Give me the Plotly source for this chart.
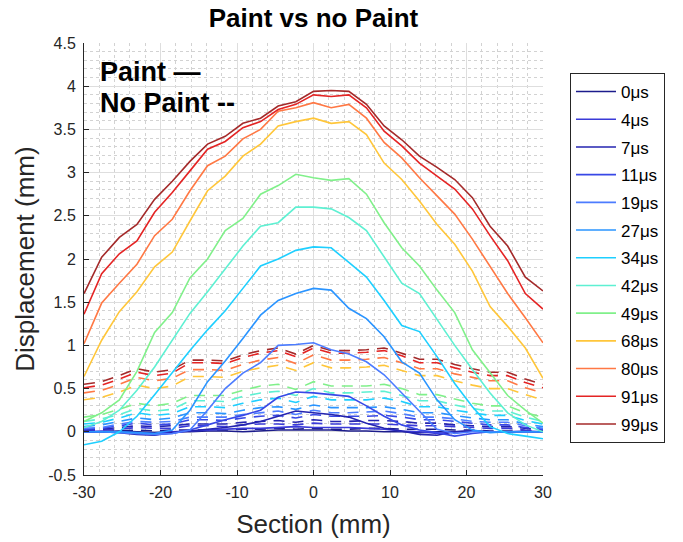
import plotly.graph_objects as go

section_mm = [-30.0, -27.69, -25.38, -23.08, -20.77, -18.46, -16.15, -13.85, -11.54, -9.23,
              -6.92, -4.62, -2.31, 0.0, 2.31, 4.62, 6.92, 9.23, 11.54, 13.85,
              16.15, 18.46, 20.77, 23.08, 25.38, 27.69, 30.0]

time_labels = ["0μs", "4μs", "7μs", "11μs", "19μs", "27μs", "34μs",
               "42μs", "49μs", "68μs", "80μs", "91μs", "99μs"]

line_colors = ["#1c1c8c", "#3a3ad8", "#2424b0", "#3848e6", "#4c7cff", "#2a94ff", "#1ecfff",
               "#5ef0d2", "#80f08a", "#ffc63a", "#ff7844", "#e42424", "#a42a2a"]

# Paint (solid) displacement, mm
paint_0 = [0.0, 0.0, 0.01, 0.0, -0.01, 0.0, 0.0, 0.01, 0.01, 0.0, 0.01, 0.02, 0.02, 0.02,
           0.02, 0.01, 0.01, 0.0, 0.0, -0.01, 0.0, 0.0, 0.01, 0.0, 0.0, 0.0, 0.0]
paint_4 = [0.0, 0.01, 0.0, -0.01, -0.02, 0.0, 0.01, 0.02, 0.03, 0.04, 0.04, 0.05, 0.06, 0.05,
           0.05, 0.05, 0.04, 0.03, 0.01, 0.0, -0.02, 0.0, 0.01, 0.0, 0.0, 0.01, 0.0]
paint_7 = [0.0, 0.0, -0.01, -0.03, -0.04, -0.01, 0.01, 0.03, 0.05, 0.08, 0.12, 0.18, 0.24, 0.22,
           0.20, 0.17, 0.10, 0.04, 0.01, -0.03, -0.04, 0.0, 0.01, 0.0, 0.0, 0.0, 0.0]
paint_11 = [0.0, 0.0, 0.0, -0.02, -0.03, -0.02, 0.02, 0.08, 0.14, 0.19, 0.25, 0.40, 0.46, 0.45,
            0.43, 0.41, 0.30, 0.18, 0.08, 0.02, -0.01, -0.05, -0.02, 0.0, 0.0, 0.0, 0.0]
paint_19 = [0.0, 0.0, -0.01, -0.02, -0.03, -0.02, 0.02, 0.25, 0.50, 0.68, 0.80, 1.00, 1.01, 1.03,
            0.95, 0.90, 0.81, 0.66, 0.45, 0.24, 0.03, -0.02, 0.0, 0.0, 0.0, 0.0, 0.0]
paint_27 = [0.0, 0.0, 0.0, -0.01, -0.02, 0.02, 0.25, 0.58, 0.82, 1.08, 1.35, 1.52, 1.60, 1.66,
            1.64, 1.43, 1.31, 1.10, 0.81, 0.68, 0.37, 0.14, 0.02, -0.01, 0.0, 0.0, 0.0]
paint_34 = [-0.15, -0.11, 0.0, 0.18, 0.43, 0.69, 0.94, 1.18, 1.40, 1.66, 1.92, 2.00, 2.10, 2.14,
            2.13, 1.96, 1.79, 1.52, 1.23, 1.16, 0.87, 0.56, 0.29, 0.06, -0.02, -0.05, -0.08]
paint_42 = [0.05, 0.12, 0.25, 0.48, 0.75, 1.06, 1.37, 1.62, 1.88, 2.15, 2.38, 2.42, 2.60, 2.60,
            2.58, 2.48, 2.33, 2.02, 1.72, 1.60, 1.30, 1.00, 0.72, 0.45, 0.22, 0.08, 0.0]
paint_49 = [0.12, 0.22, 0.37, 0.70, 1.15, 1.38, 1.78, 2.00, 2.33, 2.47, 2.75, 2.85, 2.98, 2.94,
            2.91, 2.93, 2.75, 2.42, 2.13, 1.92, 1.64, 1.38, 0.95, 0.68, 0.42, 0.25, 0.10]
paint_68 = [0.64, 1.06, 1.39, 1.62, 1.91, 2.08, 2.44, 2.79, 2.96, 3.19, 3.33, 3.54, 3.59, 3.63,
            3.57, 3.59, 3.44, 3.11, 2.92, 2.67, 2.40, 2.17, 1.86, 1.45, 1.22, 0.97, 0.62]
paint_80 = [1.02, 1.49, 1.72, 1.94, 2.27, 2.46, 2.79, 3.08, 3.19, 3.39, 3.50, 3.71, 3.75, 3.81,
            3.75, 3.79, 3.63, 3.35, 3.17, 2.94, 2.73, 2.52, 2.23, 1.92, 1.60, 1.32, 1.03]
paint_91 = [1.36, 1.83, 2.06, 2.21, 2.54, 2.77, 3.02, 3.27, 3.36, 3.52, 3.59, 3.73, 3.79, 3.90,
            3.88, 3.90, 3.75, 3.48, 3.31, 3.11, 2.96, 2.81, 2.58, 2.27, 1.98, 1.60, 1.42]
paint_99 = [1.60, 2.02, 2.25, 2.40, 2.69, 2.90, 3.13, 3.33, 3.42, 3.57, 3.63, 3.77, 3.82, 3.94,
            3.95, 3.94, 3.79, 3.54, 3.38, 3.19, 3.06, 2.92, 2.71, 2.38, 2.15, 1.79, 1.63]

# No Paint (dashed) displacement, mm
nopaint_0 = [0.0, 0.0, 0.01, 0.02, 0.01, 0.02, 0.02, 0.02, 0.02, 0.03, 0.03, 0.04, 0.03, 0.04,
             0.03, 0.03, 0.04, 0.04, 0.03, 0.03, 0.03, 0.02, 0.02, 0.01, 0.01, 0.01, 0.0]
nopaint_4 = [0.01, 0.02, 0.03, 0.05, 0.04, 0.04, 0.07, 0.07, 0.06, 0.08, 0.09, 0.09, 0.08, 0.10,
             0.09, 0.09, 0.09, 0.09, 0.08, 0.07, 0.07, 0.06, 0.05, 0.04, 0.04, 0.02, 0.01]
nopaint_7 = [0.02, 0.03, 0.05, 0.07, 0.06, 0.07, 0.09, 0.09, 0.09, 0.11, 0.12, 0.13, 0.11, 0.14,
             0.12, 0.12, 0.13, 0.13, 0.12, 0.10, 0.10, 0.08, 0.07, 0.06, 0.06, 0.04, 0.02]
nopaint_11 = [0.03, 0.04, 0.07, 0.10, 0.08, 0.09, 0.14, 0.14, 0.13, 0.16, 0.18, 0.19, 0.16, 0.20,
              0.18, 0.18, 0.18, 0.19, 0.17, 0.14, 0.14, 0.12, 0.10, 0.08, 0.08, 0.05, 0.03]
nopaint_19 = [0.04, 0.05, 0.09, 0.12, 0.11, 0.12, 0.17, 0.17, 0.17, 0.20, 0.22, 0.24, 0.20, 0.25,
              0.22, 0.22, 0.23, 0.24, 0.21, 0.17, 0.17, 0.15, 0.12, 0.11, 0.11, 0.07, 0.04]
nopaint_27 = [0.06, 0.08, 0.12, 0.16, 0.14, 0.16, 0.22, 0.22, 0.21, 0.25, 0.28, 0.29, 0.26, 0.31,
              0.28, 0.28, 0.28, 0.29, 0.26, 0.22, 0.22, 0.19, 0.16, 0.14, 0.14, 0.09, 0.06]
nopaint_34 = [0.09, 0.11, 0.16, 0.22, 0.19, 0.21, 0.29, 0.29, 0.28, 0.33, 0.37, 0.39, 0.34, 0.41,
              0.37, 0.37, 0.37, 0.39, 0.35, 0.29, 0.29, 0.25, 0.22, 0.19, 0.19, 0.13, 0.09]
nopaint_42 = [0.12, 0.15, 0.20, 0.27, 0.24, 0.26, 0.36, 0.36, 0.35, 0.41, 0.45, 0.47, 0.42, 0.50,
              0.45, 0.45, 0.46, 0.47, 0.42, 0.36, 0.36, 0.31, 0.27, 0.24, 0.24, 0.17, 0.12]
nopaint_49 = [0.17, 0.20, 0.26, 0.33, 0.30, 0.33, 0.42, 0.42, 0.42, 0.48, 0.53, 0.55, 0.49, 0.58,
              0.53, 0.53, 0.53, 0.55, 0.50, 0.43, 0.43, 0.38, 0.33, 0.30, 0.30, 0.22, 0.17]
nopaint_68 = [0.37, 0.40, 0.46, 0.54, 0.50, 0.53, 0.64, 0.64, 0.63, 0.70, 0.74, 0.77, 0.71, 0.80,
              0.74, 0.74, 0.75, 0.77, 0.71, 0.65, 0.65, 0.59, 0.54, 0.50, 0.50, 0.43, 0.37]
nopaint_80 = [0.45, 0.48, 0.55, 0.63, 0.59, 0.62, 0.72, 0.72, 0.71, 0.78, 0.83, 0.86, 0.79, 0.89,
              0.83, 0.83, 0.84, 0.86, 0.80, 0.73, 0.73, 0.67, 0.63, 0.59, 0.59, 0.51, 0.45]
nopaint_91 = [0.51, 0.54, 0.61, 0.69, 0.65, 0.68, 0.80, 0.80, 0.79, 0.86, 0.91, 0.94, 0.87, 0.97,
              0.91, 0.91, 0.92, 0.94, 0.88, 0.80, 0.80, 0.74, 0.69, 0.65, 0.65, 0.57, 0.51]
nopaint_99 = [0.55, 0.58, 0.65, 0.73, 0.69, 0.72, 0.83, 0.83, 0.82, 0.89, 0.94, 0.97, 0.90, 1.00,
              0.94, 0.94, 0.95, 0.97, 0.91, 0.84, 0.84, 0.78, 0.73, 0.69, 0.69, 0.61, 0.55]

paint_series = [paint_0, paint_4, paint_7, paint_11, paint_19, paint_27, paint_34,
                paint_42, paint_49, paint_68, paint_80, paint_91, paint_99]
nopaint_series = [nopaint_0, nopaint_4, nopaint_7, nopaint_11, nopaint_19, nopaint_27, nopaint_34,
                  nopaint_42, nopaint_49, nopaint_68, nopaint_80, nopaint_91, nopaint_99]

x_tick_vals = [-30, -20, -10, 0, 10, 20, 30]
x_tick_text = ["-30", "-20", "-10", "0", "10", "20", "30"]
y_tick_vals = [-0.5, 0, 0.5, 1, 1.5, 2, 2.5, 3, 3.5, 4, 4.5]
y_tick_text = ["-0.5", "0", "0.5", "1", "1.5", "2", "2.5", "3", "3.5", "4", "4.5"]

FONT = "Liberation Sans, Arial, Helvetica, sans-serif"
INK = "#262626"

fig = go.Figure()

for lab, col, ys in zip(time_labels, line_colors, nopaint_series):
    fig.add_trace(go.Scatter(x=section_mm, y=ys, mode="lines", name=lab + " (no paint)",
                             line=dict(color=col, width=1.6, dash="11px,8px"),
                             showlegend=False, hoverinfo="skip"))

for lab, col, ys in zip(time_labels, line_colors, paint_series):
    fig.add_trace(go.Scatter(x=section_mm, y=ys, mode="lines", name=lab, legendgroup=lab,
                             line=dict(color=col, width=1.6)))

axis_common = dict(
    ticks="inside", ticklen=5, tickcolor=INK, tickwidth=1,
    showline=True, linecolor=INK, linewidth=1, mirror=False,
    showgrid=True, gridcolor="#dedede", gridwidth=1, zeroline=False,
    tickfont=dict(family=FONT, size=16, color=INK), automargin=False,
)

fig.update_xaxes(range=[-30, 30], tickvals=x_tick_vals, ticktext=x_tick_text,
                 minor=dict(dtick=2, showgrid=True, gridcolor="#d2d2d2", griddash="dot", gridwidth=1),
                 title=dict(text="Section (mm)", font=dict(family=FONT, size=26, color=INK), standoff=14),
                 ticklabelstandoff=3,
                 **axis_common)
fig.update_yaxes(range=[-0.5, 4.5], tickvals=y_tick_vals, ticktext=y_tick_text,
                 minor=dict(dtick=0.1, showgrid=True, gridcolor="#d2d2d2", griddash="dot", gridwidth=1),
                 title=dict(text="Displacement (mm)", font=dict(family=FONT, size=26, color=INK), standoff=6),
                 ticklabelstandoff=4,
                 **axis_common)

fig.update_layout(
    width=683, height=542,
    margin=dict(l=84, r=140, t=43, b=67),
    paper_bgcolor="white", plot_bgcolor="white",
    font=dict(family=FONT, color=INK),
    title=dict(text="Paint vs no Paint", x=0.5, xref="paper", xanchor="center",
               y=1 - 18 / 542, yref="container", yanchor="middle",
               font=dict(family=FONT, size=26, color="black", weight="bold")),
    legend=dict(x=1.0588, y=0.9306, xanchor="left", yanchor="top",
                bordercolor=INK, borderwidth=1, bgcolor="white",
                font=dict(family=FONT, size=17, color="black"),
                tracegroupgap=2.6, itemwidth=40, traceorder="grouped"),
    annotations=[
        dict(text="Paint —", x=0.0305, y=0.9329, xref="paper", yref="paper",
             xanchor="left", yanchor="middle", showarrow=False,
             font=dict(family=FONT, size=27, color="black", weight="bold")),
        dict(text="No Paint --", x=0.0305, y=0.861, xref="paper", yref="paper",
             xanchor="left", yanchor="middle", showarrow=False,
             font=dict(family=FONT, size=27, color="black", weight="bold")),
    ],
)

fig.write_html("out.html")
